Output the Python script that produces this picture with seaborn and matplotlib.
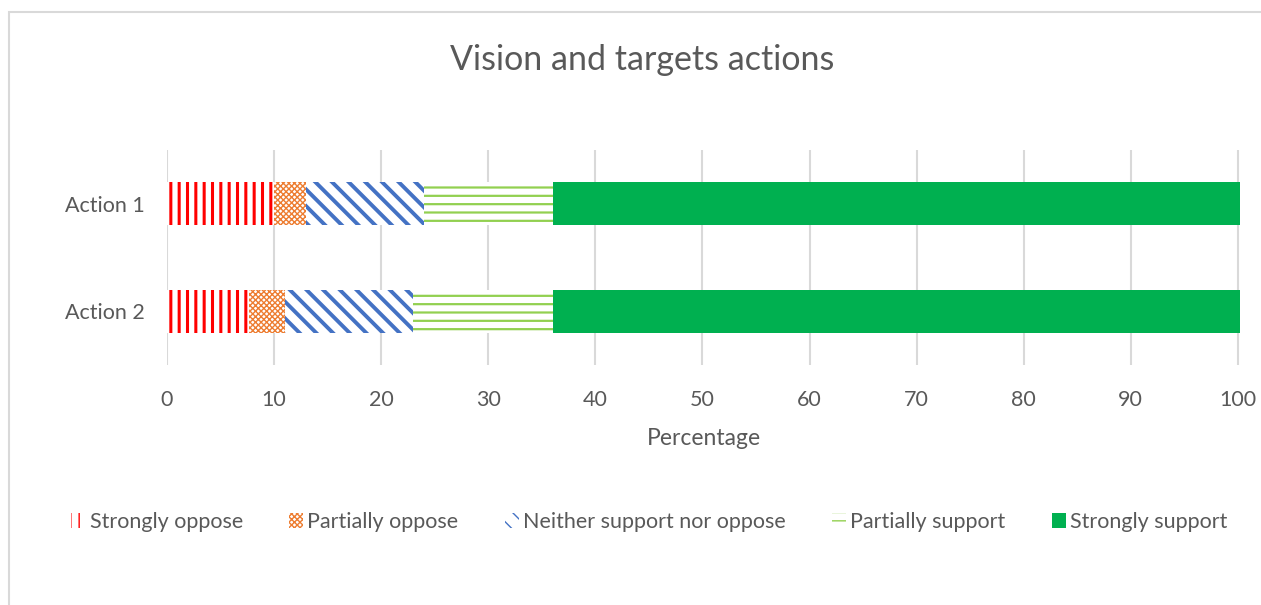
import matplotlib.pyplot as plt
import matplotlib.patches as mpatches
import seaborn as sns

# survey results, percent of respondents
actions = ["Action 1", "Action 2"]
categories = [
    "Strongly oppose",
    "Partially oppose",
    "Neither support nor oppose",
    "Partially support",
    "Strongly support",
]
strongly_oppose = [10.0, 7.7]
partially_oppose = [3.0, 3.3]
neither = [11.0, 12.0]
partially_support = [12.0, 13.0]
strongly_support = [64.2, 64.2]

colors = ["#FF0000", "#ED7D31", "#4472C4", "#92D050", "#00B050"]
hatches = ["||", "xxxxxx", "\\\\", "--", None]
hatch_widths = [2.2, 1.0, 2.8, 1.6, 1.0]

TEXT = "#595959"
GRID = "#D9D9D9"

sns.set_theme(style="white")
plt.rcParams["font.family"] = ["Lato", "DejaVu Sans"]

series = [strongly_oppose, partially_oppose, neither, partially_support, strongly_support]

# cumulative totals, drawn from the longest down so each segment covers the next
cums = []
running = [0.0] * len(actions)
for vals in series:
    running = [r + v for r, v in zip(running, vals)]
    cums.append(list(running))

fig = plt.figure(figsize=(12.61, 6.05), dpi=100)
ax = fig.add_axes([167 / 1261, 0.397, 1073 / 1261, 0.355])

for i in reversed(range(len(categories))):
    n_before = len(ax.patches)
    with plt.rc_context({"hatch.linewidth": hatch_widths[i]}):
        sns.barplot(x=cums[i], y=actions, orient="h", width=0.4,
                    color=colors[i], ax=ax)
        for p in ax.patches[n_before:]:
            if hatches[i]:
                p.set_facecolor("white")
                p.set_edgecolor(colors[i])
                p.set_hatch(hatches[i])
            else:
                p.set_facecolor(colors[i])
                p.set_edgecolor(colors[i])
            p.set_linewidth(0)

ax.set_xlim(0, 100.2)
ax.set_ylim(1.5, -0.5)
ax.set_xticks(range(0, 101, 10))
ax.xaxis.grid(True, color=GRID, linewidth=1.5)
ax.set_axisbelow(True)
for s in ax.spines.values():
    s.set_visible(False)
ax.tick_params(axis="both", length=0, labelsize=15.5, colors=TEXT)
ax.tick_params(axis="x", pad=18)
ax.tick_params(axis="y", pad=16)
ax.set_xlabel("Percentage", fontsize=16.5, color=TEXT, labelpad=13)
ax.set_ylabel("")

fig.suptitle("Vision and targets actions", fontsize=24.5, color=TEXT,
             x=0.509, y=0.927)

handles = []
for c, h in zip(colors, hatches):
    if h:
        handles.append(mpatches.Patch(facecolor="white", edgecolor=c, hatch=h, linewidth=0))
    else:
        handles.append(mpatches.Patch(facecolor=c, edgecolor=c, linewidth=0))
fig.legend(handles, categories, loc="center", bbox_to_anchor=(0.515, 0.137), ncol=5,
           frameon=False, fontsize=15.5, labelcolor=TEXT, handlelength=0.65,
           handleheight=0.65, handletextpad=0.2, columnspacing=2.15)

# chart border
fig.patches.append(mpatches.Rectangle((9 / 1261, -0.1), 1.2, 1.1 - 12 / 605,
                                      transform=fig.transFigure, fill=False,
                                      edgecolor=GRID, linewidth=1.5))

fig.savefig("out.png", dpi=100)
